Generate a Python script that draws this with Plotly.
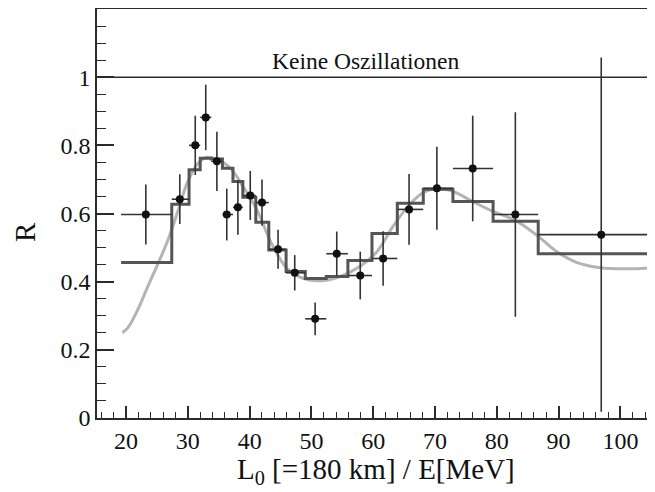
import plotly.graph_objects as go

# Data points (ratio R vs L0/E)
pt_x = [23.2, 28.7, 31.2, 32.9, 34.7, 36.3, 38.1, 40.1, 42.0, 44.6, 47.3, 50.6,
        54.1, 57.9, 61.6, 65.8, 70.3, 76.1, 83.0, 96.9]
pt_y = [0.597, 0.642, 0.800, 0.882, 0.753, 0.597, 0.618, 0.653, 0.632, 0.495, 0.426, 0.291,
        0.482, 0.418, 0.468, 0.612, 0.674, 0.732, 0.597, 0.538]
pt_err = [0.088, 0.073, 0.087, 0.096, 0.087, 0.076, 0.080, 0.072, 0.068, 0.057, 0.052, 0.048,
          0.065, 0.070, 0.080, 0.104, 0.122, 0.155, 0.300, 0.520]
bin_lo = [19.2, 27.4, 30.2, 32.0, 33.8, 35.6, 37.3, 38.9, 41.0, 43.1, 45.9, 49.0,
          52.4, 55.9, 59.8, 63.9, 68.1, 72.9, 79.4, 86.7]
bin_hi = [27.4, 30.2, 32.0, 33.8, 35.6, 37.3, 38.9, 41.0, 43.1, 45.9, 49.0, 52.4,
          55.9, 59.8, 63.9, 68.1, 72.9, 79.4, 86.7, 120.0]

# Best-fit step histogram
hist_edges = [19.2, 27.4, 30.2, 32.0, 33.8, 35.6, 37.3, 38.9, 41.0, 43.1, 45.9, 49.0,
              52.4, 55.9, 59.8, 63.9, 68.1, 72.9, 79.4, 86.7, 120.0]
hist_vals = [0.456, 0.627, 0.728, 0.762, 0.760, 0.733, 0.694, 0.648, 0.574, 0.493, 0.430, 0.409,
             0.415, 0.462, 0.541, 0.630, 0.671, 0.635, 0.577, 0.482]

# Smooth oscillation curve
curve_x = [19.4, 20.3, 21.9, 23.5, 25.3, 26.8, 28.3, 29.9, 31.5, 33.1, 34.7, 36.8, 38.9,
           41.2, 43.6, 46.0, 48.6, 51.7, 54.6, 57.9, 60.6, 63.2, 65.5, 67.8, 70.3, 72.9,
           76.1, 79.4, 83.0, 86.7, 89.7, 93.0, 96.7, 101.1, 106.0]
curve_y = [0.250, 0.265, 0.318, 0.385, 0.458, 0.523, 0.602, 0.690, 0.744, 0.765, 0.759, 0.735,
           0.680, 0.610, 0.510, 0.440, 0.410, 0.403, 0.415, 0.445, 0.488, 0.562, 0.618, 0.658,
           0.673, 0.665, 0.635, 0.606, 0.580, 0.533, 0.488, 0.456, 0.441, 0.438, 0.441]

hist_y = hist_vals + [hist_vals[-1]]
ex_plus = [h - x for h, x in zip(bin_hi, pt_x)]
ex_minus = [x - l for l, x in zip(bin_lo, pt_x)]

FONT = "Liberation Serif"
AX = "#2b2b2b"

fig = go.Figure()
fig.add_trace(go.Scatter(x=curve_x, y=curve_y, mode="lines", line=dict(color="#b4b4b4", width=3, shape="spline"),
                         hoverinfo="skip", showlegend=False))
fig.add_trace(go.Scatter(x=hist_edges, y=hist_y, mode="lines", line=dict(color="#555555", width=3, shape="hv"),
                         showlegend=False))
fig.add_trace(go.Scatter(x=pt_x, y=pt_y, mode="markers",
                         marker=dict(color="#111111", size=8),
                         error_y=dict(type="data", array=pt_err, color="#333333", thickness=1.6, width=0),
                         error_x=dict(type="data", array=ex_plus, arrayminus=ex_minus, color="#333333",
                                      thickness=1.6, width=0),
                         showlegend=False))

fig.add_shape(type="line", xref="paper", x0=0, x1=1, yref="y", y0=1, y1=1,
              line=dict(color=AX, width=1.5))

fig.add_annotation(x=58.8, y=1.0, xref="x", yref="y", text="Keine Oszillationen", showarrow=False,
                   xanchor="center", yanchor="bottom", yshift=1,
                   font=dict(family=FONT, size=23.5, color="#111"))
fig.add_annotation(x=0.5, y=-0.13, xref="paper", yref="paper", text="L<sub>0</sub> [=180 km] / E[MeV]",
                   showarrow=False, xanchor="center", yanchor="middle",
                   font=dict(family=FONT, size=29, color="#111"))
fig.add_annotation(x=-0.129, y=0.455, xref="paper", yref="paper", text="R", textangle=-90,
                   showarrow=False, xanchor="center", yanchor="middle",
                   font=dict(family=FONT, size=29, color="#111"))

# page body adds an 8 px offset, so the figure is sized to the visible area
fig.update_layout(
    width=647, height=484,
    margin=dict(l=89, r=0, t=1, b=74),
    paper_bgcolor="white", plot_bgcolor="white",
    font=dict(family=FONT, size=24, color="#111"),
    xaxis=dict(range=[15.3, 105.6], showgrid=False, zeroline=False, automargin=False,
               showline=True, linecolor=AX, linewidth=1.6, mirror=True,
               ticks="inside", ticklen=12, tickwidth=1.5, tickcolor=AX,
               tick0=20, dtick=10,
               minor=dict(dtick=2, ticks="inside", ticklen=6, tickwidth=1.2, tickcolor=AX)),
    yaxis=dict(range=[0, 1.2], showgrid=False, zeroline=False, automargin=False,
               showline=True, linecolor=AX, linewidth=1.6,
               ticks="inside", ticklen=17, tickwidth=1.5, tickcolor=AX,
               tickvals=[0, 0.2, 0.4, 0.6, 0.8, 1.0], ticktext=["0", "0.2", "0.4", "0.6", "0.8", "1"],
               minor=dict(dtick=0.05, ticks="inside", ticklen=9, tickwidth=1.2, tickcolor=AX)),
)

fig.write_html("out.html")
